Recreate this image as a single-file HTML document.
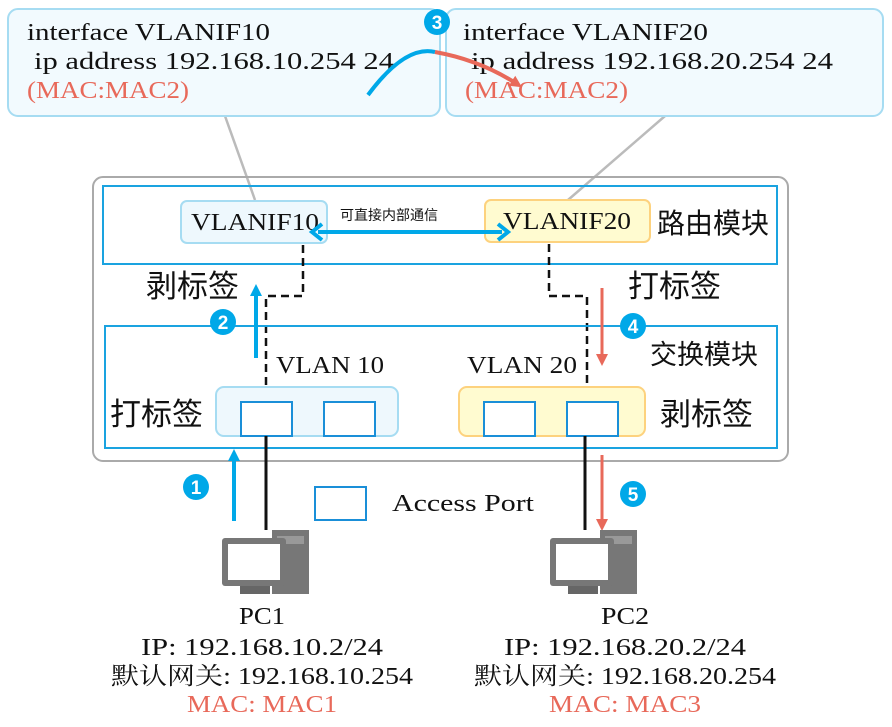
<!DOCTYPE html>
<html><head><meta charset="utf-8"><style>body{margin:0;background:#fff}svg{display:block}
.t{font-family:"Liberation Serif","Noto Serif CJK SC",serif;font-size:24px;fill:#111}
.c{font-family:"Liberation Sans","Noto Sans CJK SC",sans-serif;fill:#111}
.r{fill:#e8695a}
.n{font-family:"Liberation Sans",sans-serif;font-weight:bold;font-size:19px;fill:#fff;text-anchor:middle}
</style></head><body>
<svg width="892" height="727" viewBox="0 0 892 727" xmlns="http://www.w3.org/2000/svg">
<defs>
<marker id="ab" markerWidth="12" markerHeight="12" refX="6" refY="6" orient="auto" markerUnits="userSpaceOnUse" viewBox="0 0 12 12"><path d="M0,0 L12,6 L0,12 Z" fill="#00a8e8"/></marker>
<marker id="ar" markerWidth="12" markerHeight="12" refX="6" refY="6" orient="auto" markerUnits="userSpaceOnUse" viewBox="0 0 12 12"><path d="M0,0 L12,6 L0,12 Z" fill="#e8695a"/></marker>
</defs>
<line x1="225" y1="116" x2="255" y2="200" stroke="#bbb" stroke-width="2.5"/>
<line x1="665" y1="116" x2="568" y2="200" stroke="#bbb" stroke-width="2.5"/>
<rect x="8" y="9" width="432" height="107" rx="10" fill="#f2fafe" stroke="#a6dcf2" stroke-width="2"/>
<rect x="446" y="9" width="437" height="107" rx="10" fill="#f2fafe" stroke="#a6dcf2" stroke-width="2"/>
<text class="t" x="27" y="40" textLength="243" lengthAdjust="spacingAndGlyphs">interface VLANIF10</text>
<text class="t" x="34" y="69" textLength="360" lengthAdjust="spacingAndGlyphs">ip address 192.168.10.254 24</text>
<text class="t r" x="27" y="98" textLength="162" lengthAdjust="spacingAndGlyphs">(MAC:MAC2)</text>
<text class="t" x="463" y="40" textLength="245" lengthAdjust="spacingAndGlyphs">interface VLANIF20</text>
<text class="t" x="471" y="69" textLength="362" lengthAdjust="spacingAndGlyphs">ip address 192.168.20.254 24</text>
<text class="t r" x="465" y="98" textLength="163" lengthAdjust="spacingAndGlyphs">(MAC:MAC2)</text>
<path d="M368,95 Q405,45 435,52" fill="none" stroke="#00a8e8" stroke-width="4"/>
<path d="M435,52 Q480,60 517,84" fill="none" stroke="#e8695a" stroke-width="4" marker-end="url(#ar)"/>
<circle cx="437" cy="22" r="13" fill="#00a8e8"/><text class="n" x="437" y="29">3</text>
<rect x="93" y="177" width="695" height="284" rx="10" fill="none" stroke="#aaa" stroke-width="2"/>
<rect x="103" y="186" width="674" height="78" fill="none" stroke="#1aa3e0" stroke-width="2"/>
<rect x="181" y="201" width="146" height="42" rx="6" fill="#eef8fd" stroke="#a6dcf2" stroke-width="2"/>
<text class="t" x="191" y="230" textLength="128" lengthAdjust="spacingAndGlyphs">VLANIF10</text>
<rect x="485" y="200" width="165" height="42" rx="6" fill="#fffbd0" stroke="#fdd27e" stroke-width="2"/>
<text class="t" x="503" y="229" textLength="128" lengthAdjust="spacingAndGlyphs">VLANIF20</text>
<text class="c" x="657" y="233" font-size="28">路由模块</text>
<text class="c" x="340" y="220" font-size="14">可直接内部通信</text>
<line x1="318" y1="232" x2="502" y2="232" stroke="#00a8e8" stroke-width="4"/>
<path d="M322,224 L312,232 L322,240" fill="none" stroke="#00a8e8" stroke-width="4"/>
<path d="M498,224 L508,232 L498,240" fill="none" stroke="#00a8e8" stroke-width="4"/>
<text class="c" x="146" y="297" font-size="31">剥标签</text>
<text class="c" x="628" y="297" font-size="31">打标签</text>
<path d="M303,245 V296 H266 V387" fill="none" stroke="#111" stroke-width="2.5" stroke-dasharray="8,5"/>
<path d="M549,244 V296 H587 V387" fill="none" stroke="#111" stroke-width="2.5" stroke-dasharray="8,5"/>
<rect x="105" y="326" width="672" height="122" fill="none" stroke="#1aa3e0" stroke-width="2"/>
<text class="c" x="650" y="364" font-size="27">交换模块</text>
<text class="t" x="276" y="373" textLength="108" lengthAdjust="spacingAndGlyphs">VLAN 10</text>
<text class="t" x="467" y="373" textLength="110" lengthAdjust="spacingAndGlyphs">VLAN 20</text>
<rect x="216" y="387" width="182" height="49" rx="8" fill="#eef8fd" stroke="#a6dcf2" stroke-width="2"/>
<rect x="459" y="387" width="186" height="49" rx="8" fill="#fffbd0" stroke="#fdd27e" stroke-width="2"/>
<g fill="#fff" stroke="#1a8fd8" stroke-width="2">
<rect x="241" y="402" width="51" height="34"/><rect x="324" y="402" width="51" height="34"/>
<rect x="484" y="402" width="51" height="34"/><rect x="567" y="402" width="51" height="34"/>
<rect x="315" y="487" width="51" height="33"/>
</g>
<text class="c" x="110" y="425" font-size="31">打标签</text>
<text class="c" x="660" y="425" font-size="31">剥标签</text>
<line x1="256" y1="358" x2="256" y2="290" stroke="#00a8e8" stroke-width="4" marker-end="url(#ab)"/>
<circle cx="223" cy="322" r="13" fill="#00a8e8"/><text class="n" x="223" y="329">2</text>
<line x1="602" y1="288" x2="602" y2="360" stroke="#e8695a" stroke-width="3" marker-end="url(#ar)"/>
<circle cx="633" cy="326" r="13" fill="#00a8e8"/><text class="n" x="633" y="333">4</text>
<line x1="266" y1="436" x2="266" y2="530" stroke="#111" stroke-width="3"/>
<line x1="585" y1="436" x2="585" y2="530" stroke="#111" stroke-width="3"/>
<line x1="234" y1="521" x2="234" y2="455" stroke="#00a8e8" stroke-width="4" marker-end="url(#ab)"/>
<circle cx="196" cy="487" r="13" fill="#00a8e8"/><text class="n" x="196" y="494">1</text>
<line x1="602" y1="455" x2="602" y2="525" stroke="#e8695a" stroke-width="3" marker-end="url(#ar)"/>
<circle cx="633" cy="494" r="13" fill="#00a8e8"/><text class="n" x="633" y="501">5</text>
<text class="t" x="392" y="511" textLength="142" lengthAdjust="spacingAndGlyphs">Access Port</text>
<g transform="translate(222,530)">
<rect x="50" y="0" width="37" height="64" fill="#777"/>
<rect x="55" y="6" width="27" height="8" fill="#999"/>
<rect x="0" y="8" width="64" height="48" rx="3" fill="#777"/>
<rect x="6" y="14" width="52" height="36" fill="#fff"/>
<rect x="18" y="56" width="30" height="8" fill="#666"/>
</g>
<g transform="translate(550,530)">
<rect x="50" y="0" width="37" height="64" fill="#777"/>
<rect x="55" y="6" width="27" height="8" fill="#999"/>
<rect x="0" y="8" width="64" height="48" rx="3" fill="#777"/>
<rect x="6" y="14" width="52" height="36" fill="#fff"/>
<rect x="18" y="56" width="30" height="8" fill="#666"/>
</g>
<g text-anchor="middle">
<text class="t" x="262" y="624" textLength="46" lengthAdjust="spacingAndGlyphs">PC1</text>
<text class="t" x="262" y="655" textLength="242" lengthAdjust="spacingAndGlyphs">IP: 192.168.10.2/24</text>
<text class="t" x="262" y="684" textLength="302" lengthAdjust="spacingAndGlyphs">默认网关: 192.168.10.254</text>
<text class="t r" x="262" y="712" textLength="150" lengthAdjust="spacingAndGlyphs">MAC: MAC1</text>
<text class="t" x="625" y="624" textLength="48" lengthAdjust="spacingAndGlyphs">PC2</text>
<text class="t" x="625" y="655" textLength="242" lengthAdjust="spacingAndGlyphs">IP: 192.168.20.2/24</text>
<text class="t" x="625" y="684" textLength="302" lengthAdjust="spacingAndGlyphs">默认网关: 192.168.20.254</text>
<text class="t r" x="625" y="712" textLength="152" lengthAdjust="spacingAndGlyphs">MAC: MAC3</text>
</g>
</svg>
</body></html>
